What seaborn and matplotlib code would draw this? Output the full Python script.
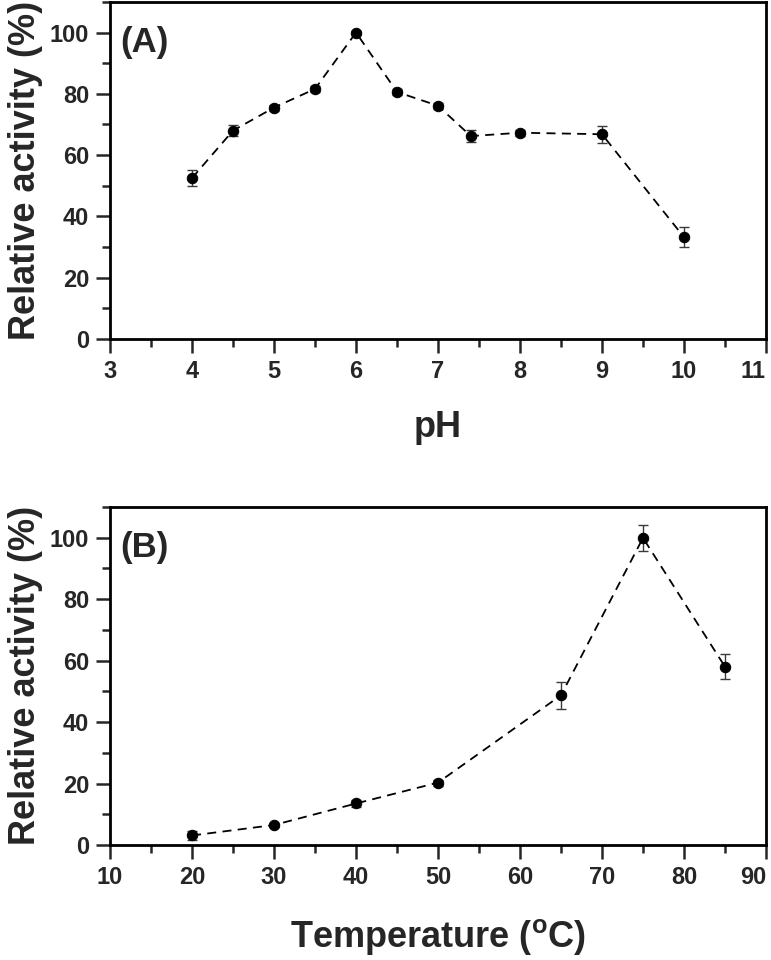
import matplotlib
matplotlib.use("Agg")
import matplotlib.pyplot as plt
import seaborn as sns
import pandas as pd
import numpy as np
from matplotlib.ticker import MultipleLocator, FixedLocator

sns.set_style("ticks")
plt.rcParams['font.family'] = ['Liberation Sans', 'DejaVu Sans']
plt.rcParams['font.weight'] = 'bold'
plt.rcParams['mathtext.fontset'] = 'custom'
plt.rcParams['mathtext.rm'] = 'Liberation Sans:bold'

ph = [4, 4.5, 5, 5.5, 6, 6.5, 7, 7.4, 8, 9, 10]
ph_act = [52.5, 68.0, 75.5, 81.6, 100.0, 80.6, 76.1, 66.2, 67.3, 66.8, 33.2]
ph_err = [2.5, 1.7, 1.0, 1.0, 0.6, 1.0, 1.0, 1.9, 1.0, 2.8, 3.2]
ph_ticks = [3, 4, 5, 6, 7, 8, 9, 10, 11]

temp = [20, 30, 40, 50, 65, 75, 85]
temp_act = [3.1, 6.5, 13.5, 20.3, 48.7, 99.9, 58.0]
temp_err = [1.6, 0.8, 1.0, 1.0, 4.4, 4.2, 4.0]
temp_ticks = [10, 20, 30, 40, 50, 60, 70, 80, 90]

fig = plt.figure(figsize=(7.71, 9.6), dpi=100)
axA = fig.add_axes([0.1427, 0.647, 0.8508, 0.351])
axB = fig.add_axes([0.1427, 0.1198, 0.8508, 0.3522])

def draw(ax, x, y, e, xticks, xmin, xlabel, tag, xlabelpad):
    df = pd.DataFrame({"x": x, "y": y})
    ax.errorbar(x, y, yerr=e, fmt='none', ecolor='#3a3a3a', elinewidth=1.0,
                capsize=3.5, capthick=1.0, zorder=2)
    sns.lineplot(data=df, x="x", y="y", ax=ax, color='black', linewidth=1.3,
                 marker='o', markersize=7.5, markeredgecolor='black',
                 markerfacecolor='black', zorder=3)
    ax.lines[-1].set_dashes([5, 3.5])
    ax.set_xlim(xticks[0], xticks[-1])
    ax.set_ylim(0, 110)
    ax.set_xticks(xticks, [str(t) for t in xticks])
    ax.xaxis.set_minor_locator(MultipleLocator(xmin))
    ax.yaxis.set_major_locator(MultipleLocator(20))
    ax.yaxis.set_minor_locator(MultipleLocator(10))
    ax.tick_params(which='major', direction='out', length=10, width=1.8,
                   labelsize=17, top=False, right=False, pad=5)
    ax.tick_params(which='minor', direction='out', length=6, width=1.8,
                   top=False, right=False)
    for sp in ax.spines.values():
        sp.set_visible(True)
        sp.set_linewidth(2.0)
        sp.set_color('black')
    xl = ax.get_xticklabels()
    for lab in xl + ax.get_yticklabels():
        lab.set_fontweight('bold')
    xl[-1].set_horizontalalignment('right')
    ax.set_xlabel(xlabel, fontsize=26, fontweight='bold', labelpad=xlabelpad)
    ax.set_ylabel("Relative activity (%)", fontsize=26, fontweight='bold', labelpad=5)
    ax.text(0.016, 0.93, tag, transform=ax.transAxes, fontsize=25,
            fontweight='bold', va='top', ha='left')

draw(axA, ph, ph_act, ph_err, ph_ticks, 0.5, "pH", "(A)", 20)
draw(axB, temp, temp_act, temp_err, temp_ticks, 5,
     "Temperature ($\\mathregular{^{o}}$C)", "(B)", 20)

fig.savefig("out.png", dpi=100)
